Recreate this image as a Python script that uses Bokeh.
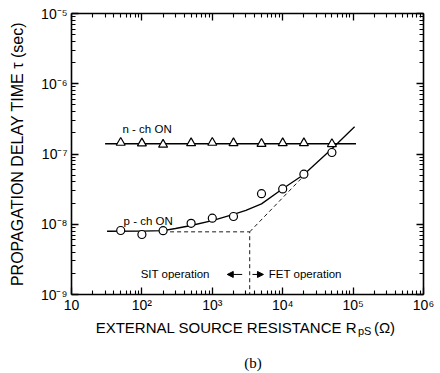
import math
from bokeh.plotting import figure
from bokeh.layouts import column
from bokeh.models import FixedTicker, Label, Arrow, NormalHead, LogAxis
from bokeh.embed import file_html
from bokeh.resources import INLINE

# ---- data ----
resistance = [50, 100, 200, 500, 1000, 2000, 5000, 10000, 20000, 50000]
n_ch_delay = [1.45e-7, 1.42e-7, 1.36e-7, 1.43e-7, 1.45e-7, 1.43e-7, 1.40e-7, 1.43e-7, 1.43e-7, 1.39e-7]
p_ch_delay = [8.15e-9, 7.15e-9, 8.1e-9, 1.03e-8, 1.22e-8, 1.29e-8, 2.72e-8, 3.18e-8, 5.16e-8, 1.05e-7]

n_fit_r = [30, 110000]
n_fit_tau = [1.40e-7, 1.40e-7]

p_fit_r = [32, 100, 200, 300, 500, 1000, 2000, 3000, 5000, 10000, 20000, 50000, 105000]
p_fit_tau = [7.95e-9, 7.98e-9, 8.1e-9, 8.7e-9, 9.6e-9, 1.13e-8, 1.38e-8, 1.58e-8, 1.95e-8, 3.2e-8, 5.1e-8, 1.19e-7, 2.45e-7]

sit_r = [200, 3400, 3400]
sit_tau = [7.8e-9, 7.8e-9, 1e-9]
fet_r = [3400, 20000]
fet_tau = [7.8e-9, 4.9e-8]

x_major = [10, 1e2, 1e3, 1e4, 1e5, 1e6]
x_labels = ["10", "10\u00b2", "10\u00b3", "10\u2074", "10\u2075", "10\u2076"]
y_major = [1e-9, 1e-8, 1e-7, 1e-6, 1e-5]
y_labels = ["10\u207b\u2079", "10\u207b\u2078", "10\u207b\u2077", "10\u207b\u2076", "10\u207b\u2075"]

x_minor = [m * d for d in x_major[:-1] for m in range(2, 10)]
y_minor = [m * d for d in y_major[:-1] for m in range(2, 10)]

FONT = "Liberation Sans"

p = figure(width=440, height=318, x_axis_type="log", y_axis_type="log",
           x_range=(10, 1e6), y_range=(1e-9, 1e-5),
           output_backend="svg", toolbar_location=None,
           min_border_left=71, min_border_right=17, min_border_top=13, min_border_bottom=24)
p.outline_line_color = None
p.xgrid.visible = False
p.ygrid.visible = False
p.background_fill_color = "white"
p.border_fill_color = "white"

def style_axis(ax, ticks, minor, labels, show, standoff=4):
    ax.ticker = FixedTicker(ticks=ticks, minor_ticks=minor)
    ax.axis_line_color = "black"
    ax.axis_line_width = 1.6
    ax.major_tick_in = 7
    ax.major_tick_out = 0
    ax.minor_tick_in = 4
    ax.minor_tick_out = 0
    ax.major_tick_line_width = 1.3
    ax.minor_tick_line_width = 1.1
    ax.major_tick_line_color = "black"
    ax.minor_tick_line_color = "black"
    if show:
        ax.major_label_overrides = {t: l for t, l in zip(ticks, labels)}
        ax.major_label_text_font = FONT
        ax.major_label_text_font_size = "14px"
        ax.major_label_text_color = "black"
        ax.major_label_standoff = standoff
    else:
        ax.major_label_overrides = {t: "" for t in ticks}
        ax.major_label_text_font_size = "0px"
        ax.major_label_standoff = 0

style_axis(p.xaxis[0], x_major, x_minor, x_labels, True, standoff=2)
style_axis(p.yaxis[0], y_major, y_minor, y_labels, True, standoff=4)
top = LogAxis()
right = LogAxis()
style_axis(top, x_major, x_minor, x_labels, False)
style_axis(right, y_major, y_minor, y_labels, False)
p.add_layout(top, "above")
p.add_layout(right, "right")

p.yaxis[0].axis_label = "PROPAGATION DELAY TIME \u03c4 (sec)"
p.yaxis[0].axis_label_text_font = FONT
p.yaxis[0].axis_label_text_font_size = "16px"
p.yaxis[0].axis_label_text_font_style = "normal"
p.yaxis[0].axis_label_text_color = "black"
p.yaxis[0].axis_label_standoff = 12

# fitted lines
p.line(n_fit_r, n_fit_tau, line_color="black", line_width=1.3)
p.line(p_fit_r, p_fit_tau, line_color="black", line_width=1.3)
p.line(sit_r, sit_tau, line_color="black", line_width=0.9, line_dash="4 3")
p.line(fet_r, fet_tau, line_color="black", line_width=0.9, line_dash="4 3")

# measured points
p.scatter(resistance, n_ch_delay, marker="triangle", size=9, fill_color="white",
          line_color="black", line_width=1.2)
p.scatter(resistance, p_ch_delay, marker="circle", size=8, fill_color="white",
          line_color="black", line_width=1.2)

def lab(fig, x, y, text, size="11.5px", align="left", font=FONT, baseline="middle"):
    fig.add_layout(Label(x=x, y=y, text=text, text_font=font, text_font_size=size,
                         text_align=align, text_baseline=baseline, text_color="black"))

lab(p, 53, 2.3e-7, "n - ch  ON")
lab(p, 55, 1.1e-8, "p - ch  ON")
lab(p, 96, 1.93e-9, "SIT operation")
lab(p, 6350, 1.93e-9, "FET operation")

p.add_layout(Arrow(end=NormalHead(size=6, fill_color="black", line_color="black", line_width=1),
                   x_start=2660, y_start=1.93e-9, x_end=1630, y_end=1.93e-9,
                   line_width=1, line_color="black"))
p.add_layout(Arrow(end=NormalHead(size=6, fill_color="black", line_color="black", line_width=1),
                   x_start=3720, y_start=1.93e-9, x_end=5330, y_end=1.93e-9,
                   line_width=1, line_color="black"))

# caption strip below the plot (x-axis title and panel letter)
cap = figure(width=440, height=55, x_range=(0, 440), y_range=(0, 55),
             output_backend="svg", toolbar_location=None,
             x_axis_location=None, y_axis_location=None,
             min_border_left=0, min_border_right=0, min_border_top=0, min_border_bottom=0)
cap.outline_line_color = None
cap.xgrid.visible = False
cap.ygrid.visible = False

lab(cap, 357, 46, "EXTERNAL SOURCE RESISTANCE R", size="15px", align="right")
lab(cap, 358, 42.5, "pS", size="11px", align="left")
lab(cap, 378, 46, "(\u03a9)", size="15px", align="left")
lab(cap, 227, 11, "(b)", size="15px", align="center", font="Liberation Serif")

open("out.html", "w").write(file_html(column(p, cap, spacing=0), INLINE))
